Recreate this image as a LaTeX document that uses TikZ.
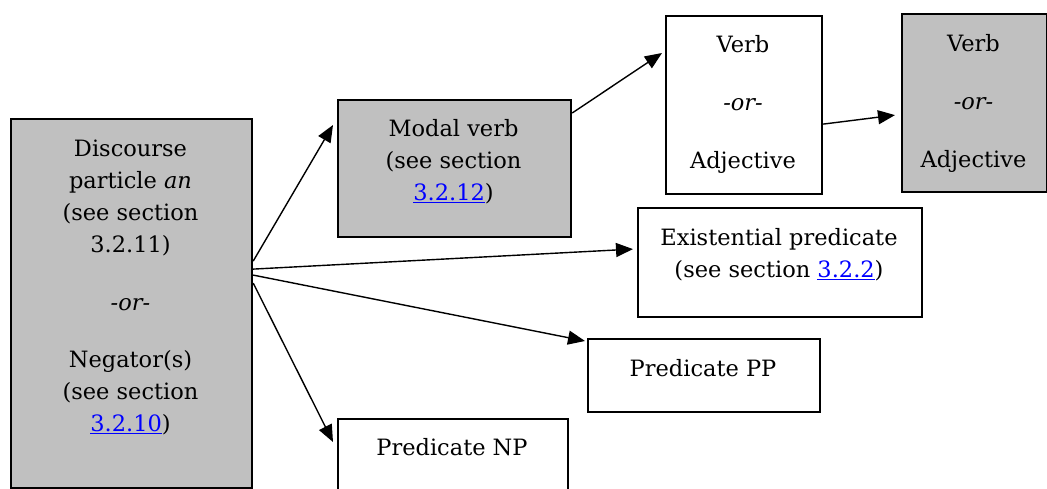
\documentclass[tikz,border=0pt]{standalone}
\usepackage{fontspec}
\setmainfont{DejaVu Serif}
\usetikzlibrary{arrows.meta}
\definecolor{boxgray}{HTML}{C0C0C0}
\definecolor{linkblue}{HTML}{0000FF}
\newcommand{\lnk}[1]{\textcolor{linkblue}{\underline{#1}}}
\newcommand{\orline}{\textit{-or-}}
\tikzset{
  stepbox/.style={draw, line width=2.2pt, inner sep=0pt, anchor=north west},
  graybox/.style={stepbox, fill=boxgray},
  txt/.style={anchor=base, inner sep=0pt, font=\fontsize{22.5}{31.8}\selectfont},
  conn/.style={line width=1.4pt, -{Triangle[length=17pt,width=14pt]}}
}
\begin{document}
\begin{tikzpicture}[x=1pt,y=-1pt]
\useasboundingbox (0,0) rectangle (1047,489);
% boxes
\node[graybox, minimum width=241pt, minimum height=369pt] (L) at (10,118) {};
\node[graybox, minimum width=233pt, minimum height=137pt] (M) at (337,99) {};
\node[stepbox, minimum width=156pt, minimum height=178pt] (V1) at (665,15) {};
\node[graybox, minimum width=145pt, minimum height=178pt] (V2) at (901,13) {};
\node[stepbox, minimum width=284pt, minimum height=109pt] (E) at (637,207) {};
\node[stepbox, minimum width=232pt, minimum height=73pt] (PP) at (587,338) {};
\node[stepbox, minimum width=230pt, minimum height=90pt] (NP) at (337,418) {};
% texts
\node[txt] (Lt) at (130.5,157) {\parbox[t]{240pt}{\centering Discourse\\ particle \textit{an}\\ (see section\\ 3.2.11)\\[26pt] \orline\\[26pt] Negator(s)\\ (see section\\ \lnk{3.2.10})}};
\node[txt] (Mt) at (453.5,137) {\parbox[t]{230pt}{\centering Modal verb\\ (see section\\ \lnk{3.2.12})}};
\node[txt] (V1t) at (743,53) {\parbox[t]{150pt}{\centering Verb\\[26pt] \orline\\[26pt] Adjective}};
\node[txt] (V2t) at (973.5,52) {\parbox[t]{140pt}{\centering Verb\\[26pt] \orline\\[26pt] Adjective}};
\node[txt] (Et) at (779,246) {\parbox[t]{280pt}{\centering Existential predicate\\ (see section \lnk{3.2.2})}};
\node[txt] (PPt) at (703,376) {Predicate PP};
\node[txt] (NPt) at (452,455) {Predicate NP};
% connectors
\draw[conn] ([yshift=42.5pt]L.east) -- ([xshift=-4pt,yshift=-26pt]M.north west);
\draw[conn] ([yshift=34.5pt]L.east) -- ([xshift=-4pt,yshift=13.5pt]E.west);
\draw[conn] ([yshift=28.5pt]L.east) -- ([xshift=-2pt,yshift=-3pt]PP.north west);
\draw[conn] ([yshift=20.5pt]L.east) -- ([xshift=-4pt,yshift=-24pt]NP.north west);
\draw[conn] ([yshift=-14pt]M.north east) -- ([xshift=-3pt,yshift=-38pt]V1.north west);
\draw[conn] ([yshift=-19pt]V1.east) -- ([xshift=-6pt,yshift=-12pt]V2.west);
\end{tikzpicture}
\end{document}
